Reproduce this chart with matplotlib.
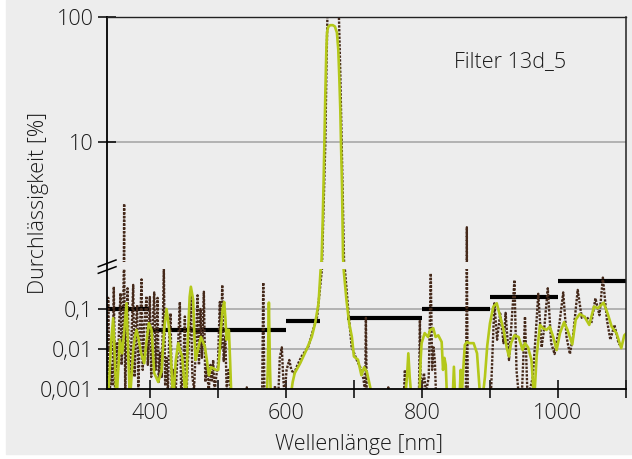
import matplotlib
matplotlib.use("Agg")
import matplotlib.pyplot as plt
from matplotlib.lines import Line2D
from matplotlib.patches import Rectangle
from matplotlib.ticker import NullLocator

plt.rcParams['font.family'] = ['Open Sans', 'DejaVu Sans']
plt.rcParams['font.weight'] = 'light'

# ---------------- data ----------------
# dotted brown series (wavelength nm, transmission %)
dot_wl = [338, 338.7, 340.5, 343, 345, 347, 349, 351, 353, 355, 356.9, 358.5, 360, 362.2, 363.8,
          365.5, 367.2, 369, 371, 373, 375.5, 377.5, 379.5, 381.4, 383, 385.5, 387.8, 389.5, 392,
          395.1, 397, 398.5, 400, 402, 404.5, 406.4, 408.5, 411.3, 413, 415, 417.5, 420.6, 422.5,
          424.5, 426.5, 428.5, 430.4, 432.5, 435, 437.5, 440, 442, 444.1, 446, 448.5, 451.5, 453.5,
          456, 458.5, 460.3, 462.5, 465, 467.5, 470.1, 472.2, 474.5, 476.5, 479.4, 481.5, 484,
          486.5, 489, 491, 493.1, 495, 497.5, 500, 502.9, 504.5, 506.4, 508.5, 511, 513, 515.5,
          517.6, 520, 541, 542.5, 544, 565, 566.7, 568.5, 582, 584, 586, 589, 591, 594, 596, 598,
          601, 605, 608, 612, 617, 623, 633, 640, 646, 650, 653, 654.5, 656, 658, 659.5, 661, 663,
          676, 678, 680, 682, 684, 685.5, 686.8, 691.7, 696.6, 704, 709, 714, 716.5, 717.6, 719,
          749, 750.5, 752, 773, 775, 776.5, 795.5, 797, 798.5, 801, 803, 806, 810, 813, 815, 817,
          819, 821, 864.5, 866, 867.5, 897, 901.5, 906.5, 910.5, 915, 920, 923, 928, 936, 939,
          942, 947, 951.5, 955, 959, 963, 967, 971, 976, 980, 985, 990, 995, 1001, 1007.7, 1012.6,
          1017.5, 1022, 1029, 1035, 1042, 1049, 1055, 1061, 1066, 1072, 1077, 1083, 1089, 1094]
dot_val = [0.0005, 0.19, 0.0005, 0.004, 0.0012, 0.36, 0.0005, 0.015, 0.003, 0.05, 0.25, 0.004,
           0.02, 3.2, 0.0008, 0.03, 0.33, 0.006, 0.0008, 0.02, 0.4, 0.002, 0.04, 0.126, 0.0008,
           0.03, 0.55, 0.003, 0.04, 0.21, 0.004, 0.02, 0.2, 0.002, 0.05, 0.26, 0.003, 0.19,
           0.0015, 0.008, 0.002, 0.98, 0.0012, 0.006, 0.0008, 0.02, 0.078, 0.0005, 0.003, 0.0006,
           0.004, 0.02, 0.15, 0.0008, 0.002, 0.065, 0.0005, 0.005, 0.03, 0.22, 0.002, 0.001,
           0.01, 0.22, 0.004, 0.1, 0.006, 0.27, 0.0015, 0.004, 0.0008, 0.004, 0.0015, 0.0053,
           0.0008, 0.002, 0.004, 0.15, 0.01, 0.4, 0.005, 0.02, 0.0008, 0.003, 0.0015, 0.0005,
           0.0005, 0.0011, 0.0005, 0.0005, 0.46, 0.0005, 0.0005, 0.0012, 0.0005, 0.0008, 0.006,
           0.011, 0.002, 0.0007, 0.003, 0.0053, 0.003, 0.0024, 0.004, 0.0065, 0.0115, 0.03, 0.065,
           0.3, 1.0, 2.0, 4.0, 10, 35, 100, 103, 103, 100, 35, 10, 3.0, 1.1, 0.95, 0.095, 0.0115,
           0.0054, 0.0036, 0.0018, 0.0008, 0.06, 0.0005, 0.0005, 0.0011, 0.0005, 0.0005, 0.003,
           0.0005, 0.0005, 0.053, 0.0005, 0.0015, 0.0025, 0.0008, 0.002, 0.78, 0.003, 0.011,
           0.005, 0.0005, 0.0005, 2.08, 0.0005, 0.0005, 0.0008, 0.139, 0.017, 0.077, 0.014, 0.08,
           0.0053, 0.53, 0.003, 0.0008, 0.0008, 0.064, 0.0008, 0.001, 0.002, 0.02, 0.24, 0.011,
           0.036, 0.33, 0.014, 0.0075, 0.03, 0.26, 0.02, 0.0075, 0.02, 0.3, 0.06, 0.064, 0.044,
           0.185, 0.07, 0.61, 0.053, 0.017, 0.04, 0.014, 0.011]

# green series
grn_wl = [338, 340.5, 343, 346.1, 348.5, 351, 353.5, 355.9, 359.3, 362.5, 365.7, 368, 370.6, 373,
          375.5, 378, 380.4, 382.8, 387, 391.7, 395, 398.5, 402.5, 406.4, 409, 412.3, 417.2, 421,
          424.5, 427, 429.4, 432, 434.3, 438, 441.7, 444.5, 447.5, 450, 452.9, 456, 458.5, 460.3,
          463.7, 465.5, 467.2, 471, 475, 478, 480.9, 484, 486.8, 490, 493.1, 497, 500.5, 502.5,
          504.4, 507, 509.3, 511, 512.7, 514.5, 516.2, 518, 520, 572, 573.5, 575, 576.5, 578,
          606, 610, 613, 621, 630, 638, 643, 648, 651, 652.5, 654, 655.5, 656.5, 658, 659.5,
          660.5, 662, 665, 669, 672, 675, 677, 678.5, 680, 681, 682.5, 684, 685, 689, 693, 697,
          700, 706, 711, 715, 719, 724, 727, 775, 778, 780, 782, 785, 796, 798, 799.5, 804, 809,
          812, 816.7, 820, 824, 829, 831, 833, 835, 837, 845, 847, 849, 855, 857, 858.5, 860,
          863, 866, 870, 876, 881, 886, 890, 892.6, 896, 900, 905, 910, 915, 920, 924.5, 928,
          931, 936, 942, 948, 951.5, 956, 961, 965, 968.6, 973.5, 978, 983, 988, 993, 998, 1003,
          1009, 1014, 1021, 1026, 1032, 1039, 1046, 1053, 1059, 1067, 1073, 1079, 1086, 1093,
          1097.5, 1101]
grn_val = [0.0005, 0.002, 0.015, 0.059, 0.006, 0.0005, 0.003, 0.0168, 0.0078, 0.03, 0.139, 0.01,
           0.0005, 0.002, 0.0094, 0.02, 0.03, 0.02, 0.008, 0.0044, 0.015, 0.044, 0.03, 0.0025,
           0.002, 0.0015, 0.0028, 0.03, 0.1, 0.05, 0.02, 0.003, 0.0005, 0.005, 0.014, 0.009,
           0.0065, 0.002, 0.0005, 0.02, 0.2, 0.36, 0.17, 0.02, 0.0053, 0.01, 0.02, 0.015, 0.0115,
           0.005, 0.0022, 0.0035, 0.0033, 0.003, 0.003, 0.008, 0.03, 0.1, 0.15, 0.06, 0.017,
           0.03, 0.03, 0.005, 0.0005, 0.0005, 0.004, 0.145, 0.004, 0.0005, 0.0005, 0.0015,
           0.0025, 0.0044, 0.0094, 0.02, 0.044, 0.14, 0.94, 1.15, 2.2, 5.0, 9.8, 25, 55, 75, 83,
           86, 86, 84, 75, 55, 33, 18, 9.8, 4.5, 1.2, 0.95, 0.17, 0.044, 0.02, 0.0065, 0.0054,
           0.0022, 0.0035, 0.0027, 0.0011, 0.0005, 0.0005, 0.002, 0.0078, 0.002, 0.0005, 0.0005,
           0.005, 0.014, 0.025, 0.02, 0.03, 0.033, 0.02, 0.022, 0.015, 0.003, 0.006, 0.004,
           0.0005, 0.0005, 0.0036, 0.0005, 0.0005, 0.003, 0.0005, 0.002, 0.0126, 0.015, 0.014,
           0.014, 0.0078, 0.0005, 0.0008, 0.002, 0.012, 0.044, 0.115, 0.139, 0.064, 0.03, 0.011,
           0.0065, 0.014, 0.022, 0.02, 0.0094, 0.014, 0.011, 0.0053, 0.0005, 0.0065, 0.04, 0.033,
           0.03, 0.036, 0.02, 0.0094, 0.025, 0.047, 0.03, 0.013, 0.054, 0.075, 0.064, 0.04, 0.115,
           0.105, 0.144, 0.077, 0.036, 0.025, 0.0105, 0.022, 0.025]

# specification limits (black steps)
spec_start = [330, 400, 600, 690, 800, 900, 1000]
spec_end = [400, 600, 650, 800, 900, 1000, 1100]
spec_val = [0.1, 0.03, 0.05, 0.06, 0.1, 0.2, 0.5]

x_ticks = [400, 500, 600, 700, 800, 900, 1000, 1100]
x_tick_labels = ['400', '', '600', '', '800', '', '1000', '']
y_ticks_top = [10, 100]
y_tick_labels_top = ['10', '100']
y_ticks_bot = [0.001, 0.01, 0.1]
y_tick_labels_bot = ['0,001', '0,01', '0,1']

# ---------------- layout ----------------
W, H = 632, 459
def fx(px): return px / W
def fy(py): return 1 - py / H

BG = '#ededed'
GRID = '#a8a8a8'
GREEN = '#b4c81a'
BROWN = '#45291a'
FS = 15.5
TXT = '#1a1a1a'

fig = plt.figure(figsize=(W / 100, H / 100), dpi=100)
fig.patch.set_facecolor('white')
fig.patches.append(Rectangle((fx(6), fy(454)), 1 - fx(6), 1 - fy(454) + 0.001,
                             transform=fig.transFigure, color=BG, zorder=-10))

L, R = 107, 626
T_TOP, T_BOT = 17, 262
B_TOP, B_BOT = 269, 389
ax_top = fig.add_axes([fx(L), fy(T_BOT), fx(R) - fx(L), fy(T_TOP) - fy(T_BOT)])
ax_bot = fig.add_axes([fx(L), fy(B_BOT), fx(R) - fx(L), fy(B_TOP) - fy(B_BOT)])

xlim = (337, 1100)
for ax in (ax_top, ax_bot):
    ax.set_facecolor('none')
    ax.set_yscale('log')
    ax.set_xlim(*xlim)
    for s in ax.spines.values():
        s.set_visible(False)
    ax.plot(dot_wl, dot_val, color=BROWN, lw=1.7, linestyle=(0, (1, 0.6)), zorder=3)
    ax.plot(grn_wl, grn_val, color=GREEN, lw=1.9, zorder=4)
    ax.yaxis.set_minor_locator(NullLocator())
    ax.tick_params(axis='y', which='major', direction='inout', length=13.5, width=1.1,
                   pad=3, labelsize=FS, colors='black', labelcolor=TXT)

ax_top.set_ylim(10 ** 0.04, 100)
ax_bot.set_ylim(0.001, 1.0)

ax_top.axhline(10, color=GRID, lw=1.2, zorder=1)
ax_bot.axhline(0.1, color=GRID, lw=1.2, zorder=1)
ax_bot.axhline(0.01, color=GRID, lw=1.2, zorder=1)

ax_bot.hlines(spec_val, spec_start, spec_end, colors='black', lw=3.0, zorder=2)

ax_top.set_yticks(y_ticks_top)
ax_top.set_yticklabels(y_tick_labels_top)
ax_top.tick_params(axis='x', bottom=False, labelbottom=False)
ax_bot.set_yticks(y_ticks_bot)
ax_bot.set_yticklabels(y_tick_labels_bot)
ax_bot.set_xticks(x_ticks)
ax_bot.set_xticklabels(x_tick_labels)
ax_bot.tick_params(axis='x', direction='inout', length=13.5, width=1.1, pad=3.5,
                   labelsize=FS, colors='black', labelcolor=TXT)

# frame lines (continuous across the break)
def fline(x0, y0, x1, y1, **kw):
    fig.lines.append(Line2D([fx(x0), fx(x1)], [fy(y0), fy(y1)], transform=fig.transFigure, **kw))

fline(L, T_TOP, L, B_BOT, color='black', lw=1.3, zorder=5)
fline(R, T_TOP, R, B_BOT, color='#222222', lw=1.1, zorder=5)
fline(L, T_TOP, R, T_TOP, color='#222222', lw=1.0, zorder=5)
fline(L, B_BOT, R, B_BOT, color='black', lw=1.3, zorder=5)
# break marks
fline(98.3, 266.7, 116, 260, color='black', lw=1.1, zorder=6)
fline(98.3, 273.3, 116, 266.7, color='black', lw=1.1, zorder=6)

fig.text(fx(359), fy(450), 'Wellenlänge [nm]', ha='center', va='baseline',
         fontsize=FS, color=TXT)
fig.text(fx(39), fy(203.5), 'Durchlässigkeit [%]', ha='center', va='center',
         rotation=90, fontsize=FS, color=TXT)
fig.text(fx(454), fy(67), 'Filter 13d_5', ha='left', va='baseline',
         fontsize=FS, color=TXT)

fig.savefig('out.png', dpi=100, facecolor=fig.get_facecolor())
